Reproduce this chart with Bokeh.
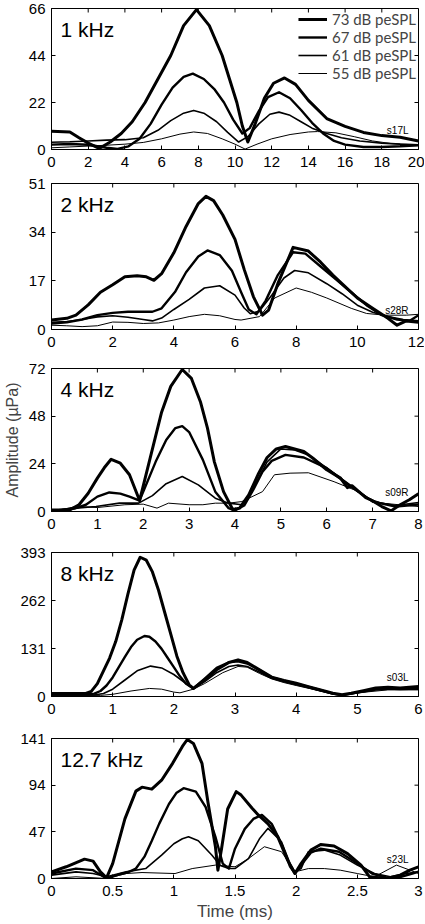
import math
from bokeh.plotting import figure
from bokeh.models import Range1d, FixedTicker, Label, Legend, LegendItem
from bokeh.layouts import column
from bokeh.embed import file_html
from bokeh.resources import INLINE

# ---------------- data ----------------
levels = ["73 dB peSPL", "67 dB peSPL", "61 dB peSPL", "55 dB peSPL"]

# Panel 1: 1 kHz (s17L)
p1_t73 = [0, 1, 1.5, 2, 2.6, 3.2, 3.8, 4.4, 5.1, 5.8, 6.5, 7.2, 7.9, 8.6, 9.3, 9.7, 10.1, 10.4, 10.7, 11.1, 11.6, 12.1, 12.7, 13.3, 14, 15, 16, 17, 18, 19, 20]
p1_v73 = [8.5, 8.2, 5.5, 3, 0.5, 3.5, 7.5, 13, 22, 33, 44, 58, 65.5, 58, 44, 33, 22, 11, 3.5, 12, 24, 31, 33.5, 30.5, 23, 14.5, 10.8, 8, 6.5, 5.7, 4]
p1_t67 = [0, 1, 2, 3, 3.6, 4.2, 4.8, 5.4, 6, 6.6, 7.2, 7.7, 8.3, 8.9, 9.4, 9.9, 10.4, 10.8, 11.3, 11.8, 12.4, 13, 13.6, 14.2, 14.8, 15.4, 16, 17, 18, 19, 20]
p1_v67 = [2.3, 2.6, 2.2, 0.8, 0.3, 1.5, 5, 12, 21, 29, 34, 35.5, 33, 28, 22, 14, 7.5, 10, 18, 24.5, 26.8, 24, 18.5, 12.5, 7.5, 4, 2.3, 1.2, 1.2, 1.5, 2]
p1_t61 = [0, 1, 2, 3, 4, 5, 5.8, 6.5, 7.2, 7.75, 8.3, 9, 9.6, 10.2, 10.7, 11.3, 11.9, 12.4, 13, 13.6, 14.2, 15, 15.8, 16.8, 18, 19, 20]
p1_v61 = [3.4, 3.6, 4.0, 4.4, 4.6, 5.5, 9, 13.5, 17, 18.3, 17, 13, 8, 3.5, 6, 12, 16.5, 17.5, 16, 13, 10, 7.5, 5.5, 4, 3, 2.5, 2.2]
p1_t55 = [0, 1, 2, 3, 4, 5, 6, 7, 7.75, 8.5, 9.3, 10, 10.55, 11.2, 12, 13, 14, 14.5, 15.5, 16.5, 17.5, 18.5, 20]
p1_v55 = [0.8, 1.2, 1.6, 2.0, 2.5, 3.3, 5, 7.2, 8.2, 7.5, 5, 2.5, 0.2, 2.5, 5, 7, 8.2, 8.4, 7.8, 6, 4, 2.8, 2]
p1_xticks = [0, 2, 4, 6, 8, 10, 12, 14, 16, 18, 20]
p1_xlabels = ["0", "2", "4", "6", "8", "10", "12", "14", "16", "18", "20"]
p1_yticks = [0, 22, 44, 66]

# Panel 2: 2 kHz (s28R)
p2_t73 = [0, 0.5, 0.8, 1.2, 1.6, 2.0, 2.4, 2.8, 3.1, 3.35, 3.6, 4.0, 4.4, 4.8, 5.05, 5.3, 5.6, 6.0, 6.3, 6.6, 6.9, 7.1, 7.4, 7.9, 8.4, 8.8, 9.2, 9.6, 10, 10.5, 11, 11.3, 11.6, 12]
p2_v73 = [3.3, 3.9, 5, 8.6, 13, 15.6, 18.4, 18.8, 18.4, 17.2, 19.5, 26.8, 36, 44, 46.5, 45, 40, 31.5, 21, 11.5, 5, 6.8, 16, 28.7, 27.4, 23.5, 19, 15, 11, 7.4, 3.9, 1.5, 3, 2.5]
p2_t67 = [0, 0.5, 1, 1.5, 2, 2.5, 3, 3.3, 3.6, 4.05, 4.4, 4.8, 5.1, 5.5, 5.9, 6.2, 6.45, 6.7, 7.0, 7.4, 7.9, 8.3, 8.8, 9.3, 9.8, 10.3, 10.8, 11.3, 11.7, 12]
p2_v67 = [2.1, 2.5, 3.5, 5, 5.8, 6.2, 6.2, 6.2, 7.4, 13.3, 20, 25.5, 27.6, 26, 20.5, 13, 7, 5.3, 10, 19, 27, 26.5, 22, 17.5, 13, 8.5, 5, 3.5, 3, 5]
p2_t61 = [0, 0.5, 1, 1.5, 2, 2.5, 3, 3.3, 3.6, 4, 4.5, 5, 5.5, 6, 6.3, 6.5, 6.8, 7.2, 7.6, 7.95, 8.4, 9, 9.5, 10, 10.5, 11, 11.5, 12]
p2_v61 = [2.5, 2.8, 3.5, 4.4, 4.8, 4.3, 3.5, 3.0, 4, 7, 10.5, 14.5, 15.3, 12, 7.5, 5.5, 6.5, 12, 18, 20.6, 19.8, 16, 12.5, 8.5, 6, 4.5, 3.5, 3]
p2_t55 = [0, 0.5, 1, 1.5, 2, 2.5, 3, 3.5, 4, 4.5, 5, 5.5, 6, 6.2, 6.8, 7.3, 8, 8.5, 9, 9.8, 10.3, 10.9, 11.6, 12]
p2_v55 = [1.5, 1.3, 1, 1.3, 2.6, 2.5, 2.1, 2.3, 3.3, 4.5, 5.3, 4.8, 3.5, 3.3, 4.5, 11, 14.5, 13, 11, 7.4, 5.6, 5, 5, 5.3]
p2_xticks = [0, 2, 4, 6, 8, 10, 12]
p2_xlabels = ["0", "2", "4", "6", "8", "10", "12"]
p2_yticks = [0, 17, 34, 51]

# Panel 3: 4 kHz (s09R)
p3_t73 = [0, 0.4, 0.6, 0.8, 1.0, 1.15, 1.3, 1.5, 1.7, 1.92, 2.13, 2.4, 2.6, 2.85, 3.05, 3.25, 3.4, 3.55, 3.75, 3.95, 4.1, 4.3, 4.5, 4.7, 4.9, 5.1, 5.3, 5.5, 5.7, 6.0, 6.3, 6.45, 6.55, 6.7, 6.85, 6.95, 7.2, 7.4, 7.6, 7.8, 8]
p3_v73 = [0.8, 0.8, 3.4, 9.2, 16.8, 22, 26.3, 24.3, 18.5, 5.5, 25, 50, 63, 71.5, 67, 55, 42, 25, 10, 1, 1.7, 8.4, 18.5, 27.2, 31.5, 32.7, 31.5, 30.2, 26.8, 21, 16.8, 12, 13, 10, 7, 6, 2.5, 0.3, 3.4, 5.9, 8.9]
p3_t67 = [0, 0.5, 0.75, 1.0, 1.26, 1.5, 1.7, 1.92, 2.27, 2.5, 2.7, 2.85, 3.0, 3.3, 3.57, 3.86, 4.0, 4.2, 4.4, 4.6, 4.8, 5.1, 5.5, 6.0, 6.5, 7.0, 7.5, 8]
p3_v67 = [0.3, 1.5, 3.4, 7.5, 9.6, 9, 7.5, 5.5, 25, 36, 42, 43, 40, 26, 10, 1.7, 0.5, 3, 11, 20, 25.5, 28.5, 27.2, 21.8, 13, 5, 2.5, 3.5]
p3_t61 = [0, 0.54, 0.97, 1.48, 1.9, 2.2, 2.5, 2.85, 3.2, 3.57, 3.86, 4.15, 4.4, 4.7, 5.0, 5.3, 5.6, 6.0, 6.5, 7, 7.5, 8]
p3_v61 = [0.3, 1.7, 2.5, 4.2, 4.2, 8, 14, 17.6, 13.4, 6.7, 4.2, 3.4, 11.7, 25, 31.5, 31, 28.5, 22, 13.5, 5, 3, 4.5]
p3_t55 = [0, 0.54, 1.0, 1.6, 2, 2.3, 2.55, 3, 3.3, 3.57, 3.86, 4.15, 4.6, 4.86, 5.2, 5.6, 6.16, 6.6, 6.9, 7.2, 8]
p3_v55 = [0, 2.5, 2.0, 3.4, 3.7, 1.7, 4.2, 3.4, 3.4, 4.2, 4.2, 5, 10, 18.5, 19.3, 19.5, 15, 10.9, 6.7, 4.2, 2.5]
p3_xticks = [0, 1, 2, 3, 4, 5, 6, 7, 8]
p3_xlabels = ["0", "1", "2", "3", "4", "5", "6", "7", "8"]
p3_yticks = [0, 24, 48, 72]

# Panel 4: 8 kHz (s03L)
p4_t73 = [0, 0.3, 0.55, 0.65, 0.75, 0.85, 0.95, 1.05, 1.15, 1.25, 1.35, 1.45, 1.55, 1.65, 1.75, 1.85, 1.95, 2.05, 2.15, 2.25, 2.32, 2.5, 2.7, 2.9, 3.05, 3.2, 3.4, 3.6, 3.8, 4.0, 4.2, 4.4, 4.6, 4.75, 4.9, 5.1, 5.3, 5.5, 5.7, 6]
p4_v73 = [8, 8, 8, 14, 35, 70, 105, 150, 210, 280, 345, 380, 372, 340, 290, 230, 170, 110, 65, 32, 22, 45, 73, 93, 100, 93, 73, 53, 44, 36, 27, 18, 9, 4.5, 9, 16, 23, 25, 23, 27]
p4_t67 = [0, 0.6, 0.7, 0.8, 0.9, 1.0, 1.1, 1.2, 1.3, 1.4, 1.52, 1.6, 1.7, 1.8, 1.9, 2.0, 2.1, 2.2, 2.32, 2.5, 2.7, 2.9, 3.05, 3.2, 3.4, 3.6, 3.8, 4.0, 4.2, 4.4, 4.6, 4.75, 4.9, 5.1, 5.3, 5.5, 5.7, 6]
p4_v67 = [6, 6, 8, 15, 30, 52, 80, 108, 135, 155, 165, 163, 150, 130, 105, 80, 55, 35, 22, 48, 78, 93, 96, 90, 72, 52, 43, 35, 26, 17, 8, 3, 8, 14, 20, 22, 20, 22]
p4_t61 = [0, 0.7, 0.85, 1.0, 1.2, 1.4, 1.62, 1.8, 2.0, 2.2, 2.32, 2.5, 2.7, 2.9, 3.05, 3.2, 3.4, 3.6, 3.8, 4.0, 4.2, 4.4, 4.6, 4.75, 5.0, 5.3, 5.5, 6]
p4_v61 = [4, 4, 8, 20, 45, 70, 83, 78, 60, 35, 22, 40, 65, 82, 86, 82, 66, 50, 40, 32, 24, 15, 7, 4, 10, 18, 20, 20]
p4_t55 = [0, 0.8, 1.0, 1.3, 1.6, 1.8, 2.0, 2.1, 2.32, 2.5, 2.8, 3.05, 3.2, 3.4, 3.6, 3.8, 4.0, 4.4, 4.75, 5.0, 5.5, 6]
p4_v55 = [3, 3, 6, 15, 22, 20, 12, 10, 20, 35, 65, 82, 80, 63, 48, 38, 30, 15, 4, 10, 18, 18]
p4_xticks = [0, 1, 2, 3, 4, 5, 6]
p4_xlabels = ["0", "1", "2", "3", "4", "5", "6"]
p4_yticks = [0, 131, 262, 393]

# Panel 5: 12.7 kHz (s23L)
p5_t73 = [0, 0.12, 0.27, 0.34, 0.4, 0.45, 0.5, 0.6, 0.69, 0.74, 0.82, 0.9, 0.99, 1.07, 1.11, 1.16, 1.23, 1.28, 1.34, 1.36, 1.39, 1.44, 1.51, 1.55, 1.64, 1.69, 1.77, 1.85, 1.93, 1.99, 2.04, 2.12, 2.2, 2.31, 2.42, 2.53, 2.6, 2.74, 2.85, 2.93, 3]
p5_v73 = [6.7, 11.8, 19.5, 17.5, 6.7, 0.7, 15, 60, 88, 92, 90, 99, 116, 133, 140, 136, 116, 76, 32, 8.4, 30, 70, 87.5, 84, 70.7, 64, 55, 42, 18.5, 5, 15, 28.6, 34.3, 32.7, 25, 13.5, 1.7, 0, 3.4, 8.4, 11.8]
p5_t67 = [0, 0.2, 0.34, 0.45, 0.55, 0.62, 0.69, 0.76, 0.82, 0.88, 0.96, 1.02, 1.08, 1.18, 1.26, 1.34, 1.4, 1.45, 1.5, 1.58, 1.65, 1.72, 1.8, 1.88, 1.95, 1.99, 2.05, 2.12, 2.2, 2.35, 2.5, 2.62, 2.75, 2.85, 2.95, 3]
p5_v67 = [5, 10, 8.4, 0, 4, 6, 10, 22, 38, 55, 75, 86, 91, 87.5, 72, 42, 15, 10, 30, 50, 60, 64, 55, 35, 12, 5, 15, 26, 30, 27, 15, 5, 0.5, 1.5, 5, 7]
p5_t61 = [0, 0.2, 0.34, 0.45, 0.61, 0.77, 0.9, 1.0, 1.07, 1.12, 1.2, 1.31, 1.38, 1.45, 1.5, 1.61, 1.7, 1.77, 1.88, 1.95, 1.99, 2.04, 2.1, 2.23, 2.36, 2.5, 2.64, 2.77, 2.9, 3]
p5_v61 = [3.4, 6.7, 5, 1.7, 6.7, 10, 23.6, 35, 40, 42, 38, 23.6, 13, 10, 10, 20, 40, 50.5, 37, 15, 6.7, 10, 27, 28.6, 23.6, 13.5, 5, 1.7, 5, 6.7]
p5_t55 = [0, 0.2, 0.45, 0.61, 0.74, 1.01, 1.15, 1.34, 1.5, 1.61, 1.74, 1.88, 1.99, 2.1, 2.23, 2.36, 2.5, 2.64, 2.82, 2.93, 3]
p5_v55 = [0, 1.7, 0, 5, 6, 5, 10, 13.5, 11.8, 20, 32, 27, 6.7, 10, 10, 8.4, 5, 1.7, 13.5, 8.4, 5]
p5_xticks = [0, 0.5, 1, 1.5, 2, 2.5, 3]
p5_xlabels = ["0", "0.5", "1", "1.5", "2", "2.5", "3"]
p5_yticks = [0, 47, 94, 141]

titles = ["1 kHz", "2 kHz", "4 kHz", "8 kHz", "12.7 kHz"]
subjects = ["s17L", "s28R", "s09R", "s03L", "s23L"]

# ---------------- styling ----------------
FONT = "Liberation Sans"
LEG_FONT = "Lato"
widths = [3.0, 2.4, 1.6, 1.0]
W = 424
LB, RB = 48, 6


def make_panel(title, subject, xticks, xlabels, yticks, curves, top_b, frame_h, bottom_b,
               legend=False, xlabel=None, ylabel=None):
    p = figure(width=W, height=top_b + frame_h + bottom_b,
               x_range=Range1d(xticks[0], xticks[-1]),
               y_range=Range1d(yticks[0], yticks[-1]),
               output_backend="svg", toolbar_location=None,
               min_border_left=LB, min_border_right=RB,
               min_border_top=top_b, min_border_bottom=bottom_b)
    p.grid.visible = False
    p.outline_line_color = "black"
    p.outline_line_width = 1
    p.background_fill_color = "white"
    p.border_fill_color = "white"

    xa = p.xaxis[0]
    xa.ticker = FixedTicker(ticks=xticks)
    xa.major_label_overrides = {float(t): l for t, l in zip(xticks, xlabels)}
    ya = p.yaxis[0]
    ya.ticker = FixedTicker(ticks=yticks)
    for ax in (xa, ya):
        ax.major_tick_in = 4
        ax.major_tick_out = 0
        ax.minor_tick_line_color = None
        ax.axis_line_color = "black"
        ax.major_tick_line_color = "black"
        ax.major_label_text_font = FONT
        ax.major_label_text_font_size = "15px"
        ax.major_label_text_color = "black"
    xa.major_label_standoff = 7
    ya.major_label_standoff = 6

    # inward ticks on the top and right edges of the box
    n_x, n_y = len(xticks), len(yticks)
    p.ray(x=xticks, y=[yticks[-1]] * n_x, length=4, length_units="screen",
          angle=-math.pi / 2, line_color="black", line_width=1)
    p.ray(x=[xticks[-1]] * n_y, y=yticks, length=4, length_units="screen",
          angle=math.pi, line_color="black", line_width=1)

    rends = []
    for (t, v), w in zip(curves, widths):
        r = p.line(t, v, line_width=w, line_color="black", line_join="round")
        rends.append(r)

    p.add_layout(Label(x=xticks[0], y=yticks[-1], x_offset=9, y_offset=-9,
                       text=title, text_font=FONT, text_font_size="21px",
                       text_baseline="top", text_align="left", text_color="black"))
    p.add_layout(Label(x=xticks[-1], y=yticks[0], x_offset=-10, y_offset=19,
                       text=subject, text_font=FONT, text_font_size="10px",
                       text_baseline="middle", text_align="right", text_color="black"))

    if legend:
        lg = Legend(items=[LegendItem(label=lab, renderers=[r]) for lab, r in zip(levels, rends)],
                    location="top_right", border_line_color=None, background_fill_alpha=0,
                    label_text_font=LEG_FONT, label_text_font_size="15px",
                    glyph_width=29, glyph_height=14, label_height=14, spacing=0,
                    padding=0, margin=2, label_standoff=5)
        p.add_layout(lg)

    if xlabel:
        xa.axis_label = xlabel
        xa.axis_label_text_font = FONT
        xa.axis_label_text_font_size = "17px"
        xa.axis_label_text_font_style = "normal"
        xa.axis_label_standoff = 3
    if ylabel:
        ya.axis_label = ylabel
        ya.axis_label_text_font = FONT
        ya.axis_label_text_font_size = "16px"
        ya.axis_label_text_font_style = "normal"
        ya.axis_label_standoff = 5
    return p


f1 = make_panel(titles[0], subjects[0], p1_xticks, p1_xlabels, p1_yticks,
                [(p1_t73, p1_v73), (p1_t67, p1_v67), (p1_t61, p1_v61), (p1_t55, p1_v55)],
                8, 141, 27, legend=True)
f2 = make_panel(titles[1], subjects[1], p2_xticks, p2_xlabels, p2_yticks,
                [(p2_t73, p2_v73), (p2_t67, p2_v67), (p2_t61, p2_v61), (p2_t55, p2_v55)],
                7, 146, 32)
f3 = make_panel(titles[2], subjects[2], p3_xticks, p3_xlabels, p3_yticks,
                [(p3_t73, p3_v73), (p3_t67, p3_v67), (p3_t61, p3_v61), (p3_t55, p3_v55)],
                7, 143, 34, ylabel="Amplitude (\u00b5Pa)")
f4 = make_panel(titles[3], subjects[3], p4_xticks, p4_xlabels, p4_yticks,
                [(p4_t73, p4_v73), (p4_t67, p4_v67), (p4_t61, p4_v61), (p4_t55, p4_v55)],
                7, 144, 35)
f5 = make_panel(titles[4], subjects[4], p5_xticks, p5_xlabels, p5_yticks,
                [(p5_t73, p5_v73), (p5_t67, p5_v67), (p5_t61, p5_v61), (p5_t55, p5_v55)],
                7, 140, 45, xlabel="Time (ms)")

layout = column(f1, f2, f3, f4, f5, spacing=0)
open("out.html", "w").write(file_html(layout, INLINE))
